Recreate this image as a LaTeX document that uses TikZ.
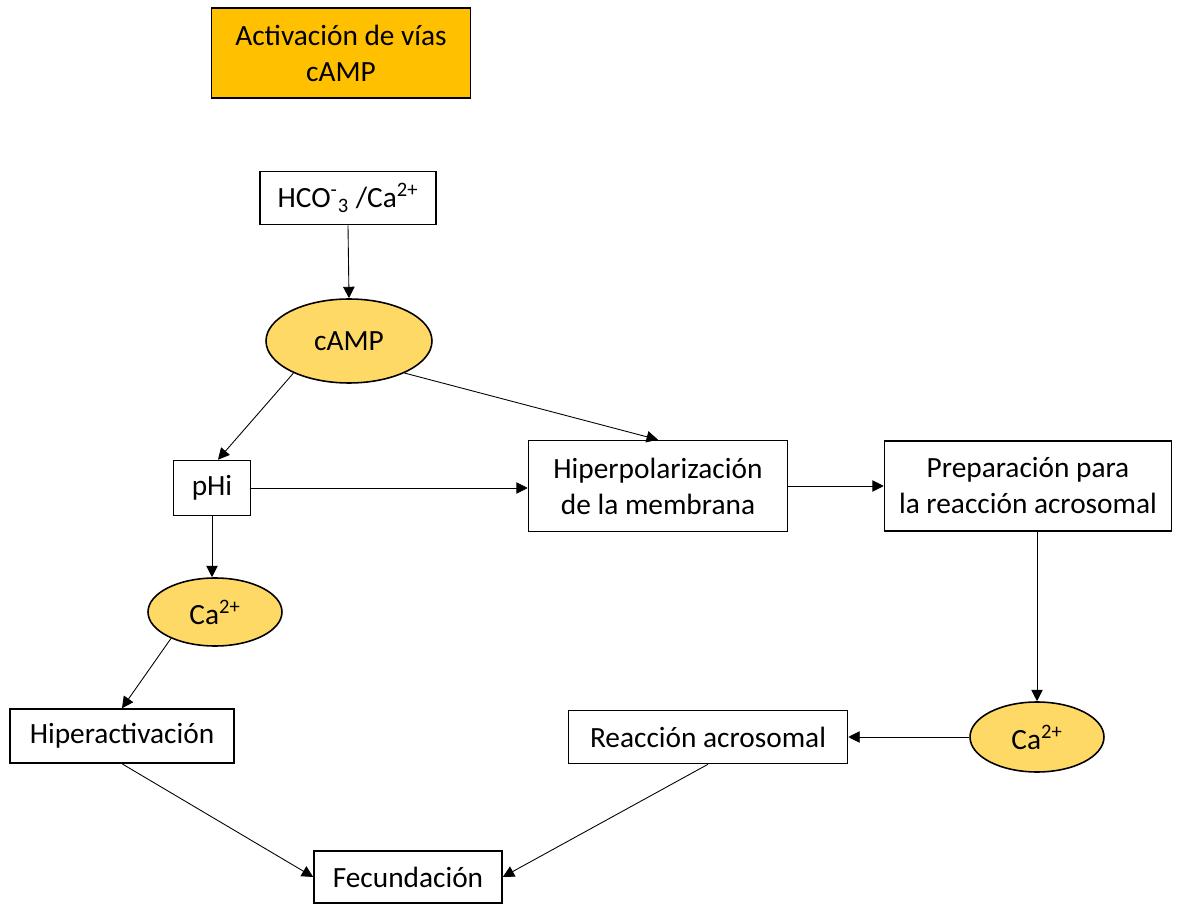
\documentclass[tikz,border=0pt]{standalone}
\usepackage{fontspec}
\setmainfont{Carlito}
\usetikzlibrary{arrows.meta}
\usetikzlibrary{shapes.geometric}
\tikzset{box/.style = {draw, line width = 0.9pt, inner sep = 0, align = center, font = \fontsize{16.7}{20.5}\selectfont}}
\tikzset{oval/.style = {draw, ellipse, fill = cyell, line width = 0.9pt, inner sep = 0, font = \fontsize{16.7}{20.5}\selectfont}}
\tikzset{conn/.style = {-{Triangle[length = 6.5pt, width = 6.5pt]}, line width = 0.5pt}}
\definecolor{corange}{HTML}{FFC000}
\definecolor{cyell}{HTML}{FFD966}

\begin{document}
\begin{tikzpicture}[x = 0.02cm, y = -0.02cm]
      \useasboundingbox (0, 0) rectangle (1184, 905);

      \node [box, fill = corange, line width = 1.1pt, minimum width = 5.18cm, minimum height = 1.8cm] (title) at (341, 53) {Activación de vías\\cAMP};

      \node [box, minimum width = 3.52cm, minimum height = 1.06cm] (hco) at (348, 198) {HCO\textsuperscript{-}\textsubscript{3} /Ca\textsuperscript{2+}};

      \node [oval, minimum width = 3.32cm, minimum height = 1.68cm] (camp) at (349, 341) {cAMP};

      \node [box, minimum width = 1.54cm, minimum height = 1.1cm] (phi) at (212, 488) {pHi};

      \node [oval, minimum width = 2.68cm, minimum height = 1.36cm] (caleft) at (215, 612) {Ca\textsuperscript{2+}};

      \node [box, minimum width = 4.48cm, minimum height = 1.08cm] (hiperact) at (122, 736) {Hiperactivación};

      \node [box, minimum width = 5.18cm, minimum height = 1.82cm] (hiperpol) at (658, 486) {Hiperpolarización\\de la membrana};

      \node [box, minimum width = 5.74cm, minimum height = 1.8cm] (prep) at (1028, 486) {Preparación para\\la reacción acrosomal};

      \node [oval, minimum width = 2.68cm, minimum height = 1.4cm] (caright) at (1037, 737) {Ca\textsuperscript{2+}};

      \node [box, minimum width = 5.58cm, minimum height = 1.06cm] (reac) at (708, 737) {Reacción acrosomal};

      \node [box, minimum width = 3.76cm, minimum height = 1.04cm] (fecund) at (408, 877) {Fecundación};

      \draw [conn] (hco.south) -- (camp.north);
      \draw [conn] (camp.210) -- ([xshift = 0.12cm] phi.north);
      \draw [conn] (camp.-30) -- (hiperpol.north);
      \draw [conn] (phi.east) -- (phi.east -| hiperpol.west);
      \draw [conn] (phi.south) -- (phi.south |- caleft.north);
      \draw [conn] (caleft.211) -- (hiperact.north);
      \draw [conn] (hiperpol.east) -- (prep.west);
      \draw [conn] (caright.north |- prep.south) -- (caright.north);
      \draw [conn] (caright.west) -- (reac.east);
      \draw [conn] (hiperact.south) -- (fecund.west);
      \draw [conn] (reac.south) -- (fecund.east);
    \end{tikzpicture}
\end{document}
